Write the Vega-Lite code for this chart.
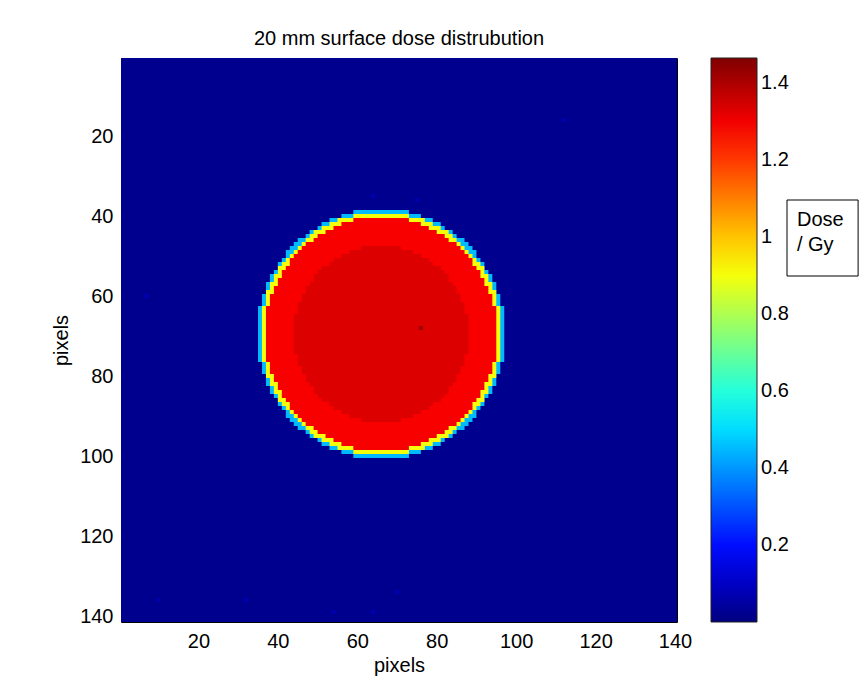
{
  "$schema": "https://vega.github.io/schema/vega-lite/v6.json",
  "width": 556,
  "height": 564,
  "autosize": "none",
  "padding": {"left": 121, "top": 58, "right": 183, "bottom": 71},
  "background": "white",
  "title": {"text": "20 mm surface dose distrubution", "font": "Liberation Sans", "fontSize": 20, "fontWeight": "normal", "color": "black", "baseline": "alphabetic", "offset": 13, "dy": 20, "anchor": "middle"},
  "config": {
    "view": {"stroke": null},
    "axis": {"grid": false, "domainColor": "black", "tickColor": "black", "labelColor": "black", "titleColor": "black", "labelFont": "Liberation Sans", "titleFont": "Liberation Sans", "labelFontSize": 20, "titleFontSize": 20, "titleFontWeight": "normal", "tickSize": -5, "zindex": 1, "labelFlush": false, "labelOverlap": false}
  },
  "datasets": {
    "bg": [{"x0": 0.5, "x1": 140.5, "y0": 0.5, "y1": 141.5, "dose": 0.02}],
    "cyan": [
      {"x0": 35, "x1": 97, "y0": 62.5, "y1": 76.5, "dose": 0.45},
      {"x0": 36, "x1": 96, "y0": 59.5, "y1": 79.5, "dose": 0.45},
      {"x0": 37, "x1": 95, "y0": 56.5, "y1": 82.5, "dose": 0.45},
      {"x0": 38, "x1": 94, "y0": 54.5, "y1": 84.5, "dose": 0.45},
      {"x0": 39, "x1": 93, "y0": 53.5, "y1": 85.5, "dose": 0.45},
      {"x0": 40, "x1": 92, "y0": 51.5, "y1": 87.5, "dose": 0.45},
      {"x0": 41, "x1": 91, "y0": 50.5, "y1": 88.5, "dose": 0.45},
      {"x0": 42, "x1": 90, "y0": 48.5, "y1": 90.5, "dose": 0.45},
      {"x0": 43, "x1": 89, "y0": 47.5, "y1": 91.5, "dose": 0.45},
      {"x0": 44, "x1": 88, "y0": 46.5, "y1": 92.5, "dose": 0.45},
      {"x0": 45, "x1": 87, "y0": 45.5, "y1": 93.5, "dose": 0.45},
      {"x0": 47, "x1": 85, "y0": 44.5, "y1": 94.5, "dose": 0.45},
      {"x0": 48, "x1": 84, "y0": 43.5, "y1": 95.5, "dose": 0.45},
      {"x0": 50, "x1": 82, "y0": 42.5, "y1": 96.5, "dose": 0.45},
      {"x0": 51, "x1": 81, "y0": 41.5, "y1": 97.5, "dose": 0.45},
      {"x0": 53, "x1": 79, "y0": 40.5, "y1": 98.5, "dose": 0.45},
      {"x0": 56, "x1": 76, "y0": 39.5, "y1": 99.5, "dose": 0.45},
      {"x0": 59, "x1": 73, "y0": 38.5, "y1": 100.5, "dose": 0.45}
    ],
    "yellow": [
      {"x0": 36, "x1": 96, "y0": 62.5, "y1": 76.5, "dose": 0.9},
      {"x0": 37, "x1": 95, "y0": 58.5, "y1": 80.5, "dose": 0.9},
      {"x0": 38, "x1": 94, "y0": 56.5, "y1": 82.5, "dose": 0.9},
      {"x0": 39, "x1": 93, "y0": 54.5, "y1": 84.5, "dose": 0.9},
      {"x0": 40, "x1": 92, "y0": 52.5, "y1": 86.5, "dose": 0.9},
      {"x0": 41, "x1": 91, "y0": 51.5, "y1": 87.5, "dose": 0.9},
      {"x0": 42, "x1": 90, "y0": 50.5, "y1": 88.5, "dose": 0.9},
      {"x0": 43, "x1": 89, "y0": 49.5, "y1": 89.5, "dose": 0.9},
      {"x0": 44, "x1": 88, "y0": 48.5, "y1": 90.5, "dose": 0.9},
      {"x0": 45, "x1": 87, "y0": 47.5, "y1": 91.5, "dose": 0.9},
      {"x0": 46, "x1": 86, "y0": 46.5, "y1": 92.5, "dose": 0.9},
      {"x0": 47, "x1": 85, "y0": 45.5, "y1": 93.5, "dose": 0.9},
      {"x0": 48, "x1": 84, "y0": 44.5, "y1": 94.5, "dose": 0.9},
      {"x0": 49, "x1": 83, "y0": 43.5, "y1": 95.5, "dose": 0.9},
      {"x0": 51, "x1": 81, "y0": 42.5, "y1": 96.5, "dose": 0.9},
      {"x0": 53, "x1": 79, "y0": 41.5, "y1": 97.5, "dose": 0.9},
      {"x0": 55, "x1": 77, "y0": 40.5, "y1": 98.5, "dose": 0.9},
      {"x0": 59, "x1": 73, "y0": 39.5, "y1": 99.5, "dose": 0.9}
    ],
    "red": [
      {"x0": 37, "x1": 95, "y0": 62.5, "y1": 76.5, "dose": 1.29},
      {"x0": 38, "x1": 94, "y0": 59.5, "y1": 79.5, "dose": 1.29},
      {"x0": 39, "x1": 93, "y0": 57.5, "y1": 81.5, "dose": 1.29},
      {"x0": 40, "x1": 92, "y0": 55.5, "y1": 83.5, "dose": 1.29},
      {"x0": 41, "x1": 91, "y0": 53.5, "y1": 85.5, "dose": 1.29},
      {"x0": 42, "x1": 90, "y0": 52.5, "y1": 86.5, "dose": 1.29},
      {"x0": 43, "x1": 89, "y0": 50.5, "y1": 88.5, "dose": 1.29},
      {"x0": 44, "x1": 88, "y0": 49.5, "y1": 89.5, "dose": 1.29},
      {"x0": 45, "x1": 87, "y0": 48.5, "y1": 90.5, "dose": 1.29},
      {"x0": 46, "x1": 86, "y0": 47.5, "y1": 91.5, "dose": 1.29},
      {"x0": 47, "x1": 85, "y0": 46.5, "y1": 92.5, "dose": 1.29},
      {"x0": 49, "x1": 83, "y0": 45.5, "y1": 93.5, "dose": 1.29},
      {"x0": 50, "x1": 82, "y0": 44.5, "y1": 94.5, "dose": 1.29},
      {"x0": 52, "x1": 80, "y0": 43.5, "y1": 95.5, "dose": 1.29},
      {"x0": 54, "x1": 78, "y0": 42.5, "y1": 96.5, "dose": 1.29},
      {"x0": 56, "x1": 76, "y0": 41.5, "y1": 97.5, "dose": 1.29},
      {"x0": 59, "x1": 73, "y0": 40.5, "y1": 98.5, "dose": 1.29}
    ],
    "dark": [
      {"x0": 44, "x1": 88, "y0": 64.5, "y1": 74.5, "dose": 1.33},
      {"x0": 45, "x1": 87, "y0": 61.5, "y1": 77.5, "dose": 1.33},
      {"x0": 46, "x1": 86, "y0": 59.5, "y1": 79.5, "dose": 1.33},
      {"x0": 47, "x1": 85, "y0": 57.5, "y1": 81.5, "dose": 1.33},
      {"x0": 48, "x1": 84, "y0": 56.5, "y1": 82.5, "dose": 1.33},
      {"x0": 49, "x1": 83, "y0": 54.5, "y1": 84.5, "dose": 1.33},
      {"x0": 50, "x1": 82, "y0": 53.5, "y1": 85.5, "dose": 1.33},
      {"x0": 51, "x1": 81, "y0": 52.5, "y1": 86.5, "dose": 1.33},
      {"x0": 53, "x1": 79, "y0": 51.5, "y1": 87.5, "dose": 1.33},
      {"x0": 54, "x1": 78, "y0": 50.5, "y1": 88.5, "dose": 1.33},
      {"x0": 56, "x1": 76, "y0": 49.5, "y1": 89.5, "dose": 1.33},
      {"x0": 58, "x1": 74, "y0": 48.5, "y1": 90.5, "dose": 1.33},
      {"x0": 61, "x1": 71, "y0": 47.5, "y1": 91.5, "dose": 1.33}
    ],
    "specks": [
      {"x0": 9.5, "x1": 10.5, "y0": 135.5, "y1": 136.5, "dose": 0.07},
      {"x0": 31.5, "x1": 32.5, "y0": 135.5, "y1": 136.5, "dose": 0.07},
      {"x0": 53.5, "x1": 54.5, "y0": 138.5, "y1": 139.5, "dose": 0.07},
      {"x0": 63.5, "x1": 64.5, "y0": 138.5, "y1": 139.5, "dose": 0.07},
      {"x0": 111.5, "x1": 112.5, "y0": 15.5, "y1": 16.5, "dose": 0.07},
      {"x0": 69.5, "x1": 70.5, "y0": 133.5, "y1": 134.5, "dose": 0.07},
      {"x0": 63.5, "x1": 64.5, "y0": 34.5, "y1": 35.5, "dose": 0.07},
      {"x0": 74.5, "x1": 75.5, "y0": 35.5, "y1": 36.5, "dose": 0.07},
      {"x0": 6.5, "x1": 7.5, "y0": 59.5, "y1": 60.5, "dose": 0.07},
      {"x0": 75.5, "x1": 76.5, "y0": 67.5, "y1": 68.5, "dose": 1.42}
    ]
  },
  "layer": [
    {
      "encoding": {
        "x": {"field": "x0", "type": "quantitative", "scale": {"domain": [0.5, 140.5], "nice": false, "zero": false},
              "axis": {"orient": "bottom", "values": [20, 40, 60, 80, 100, 120, 140], "title": "pixels", "labelPadding": 14, "titlePadding": 4}},
        "x2": {"field": "x1"},
        "y": {"field": "y0", "type": "quantitative", "scale": {"domain": [0.5, 141.5], "nice": false, "zero": false, "reverse": true},
              "axis": {"orient": "left", "values": [20, 40, 60, 80, 100, 120, 140], "title": "pixels", "labelPadding": 13, "titlePadding": 8}},
        "y2": {"field": "y1"},
        "color": {"field": "dose", "type": "quantitative",
                  "scale": {"type": "linear", "domain": [0, 0.183, 0.549, 0.915, 1.281, 1.464], "range": ["#000080", "#0000ff", "#00ffff", "#ffff00", "#ff0000", "#800000"], "interpolate": "rgb", "nice": false, "zero": false},
                  "legend": {"orient": "none", "legendX": 590, "legendY": 0, "direction": "vertical", "gradientLength": 564, "gradientThickness": 46, "title": null,
                             "values": [0.2, 0.4, 0.6, 0.8, 1, 1.2, 1.4], "format": ".1~f", "labelFont": "Liberation Sans", "labelFontSize": 20, "labelColor": "black",
                             "labelOffset": 4, "gradientStrokeColor": "#222222", "gradientStrokeWidth": 1, "padding": 0, "labelOverlap": false}}
      },
      "layer": [
        {"data": {"name": "bg"}, "mark": {"type": "rect"}},
        {"data": {"name": "cyan"}, "mark": {"type": "rect"}},
        {"data": {"name": "yellow"}, "mark": {"type": "rect"}},
        {"data": {"name": "red"}, "mark": {"type": "rect"}},
        {"data": {"name": "dark"}, "mark": {"type": "rect"}},
        {"data": {"name": "specks"}, "mark": {"type": "rect"}}
      ]
    },
    {
      "data": {"name": "bg"},
      "mark": {"type": "rect", "opacity": 0},
      "encoding": {
        "x": {"field": "x0", "type": "quantitative", "axis": {"orient": "top", "values": [20, 40, 60, 80, 100, 120, 140], "labels": false, "title": null}},
        "x2": {"field": "x1"},
        "y": {"field": "y0", "type": "quantitative", "axis": {"orient": "right", "values": [20, 40, 60, 80, 100, 120, 140], "labels": false, "title": null}},
        "y2": {"field": "y1"}
      }
    },
    {
      "data": {"values": [{}]},
      "mark": {"type": "rect", "fill": "white", "stroke": "black", "strokeWidth": 1},
      "encoding": {
        "x": {"datum": 168.2, "type": "quantitative", "axis": null},
        "x2": {"datum": 186.1},
        "y": {"datum": 36, "type": "quantitative", "axis": null},
        "y2": {"datum": 55}
      }
    },
    {
      "data": {"values": [{}]},
      "mark": {"type": "text", "align": "left", "baseline": "middle", "font": "Liberation Sans", "fontSize": 20, "color": "black"},
      "encoding": {
        "x": {"datum": 170.7, "type": "quantitative", "axis": null},
        "y": {"datum": 41, "type": "quantitative", "axis": null},
        "text": {"value": "Dose"}
      }
    },
    {
      "data": {"values": [{}]},
      "mark": {"type": "text", "align": "left", "baseline": "middle", "font": "Liberation Sans", "fontSize": 20, "color": "black"},
      "encoding": {
        "x": {"datum": 170.7, "type": "quantitative", "axis": null},
        "y": {"datum": 47.3, "type": "quantitative", "axis": null},
        "text": {"value": "/ Gy"}
      }
    }
  ],
  "resolve": {"axis": {"x": "independent", "y": "independent"}}
}
